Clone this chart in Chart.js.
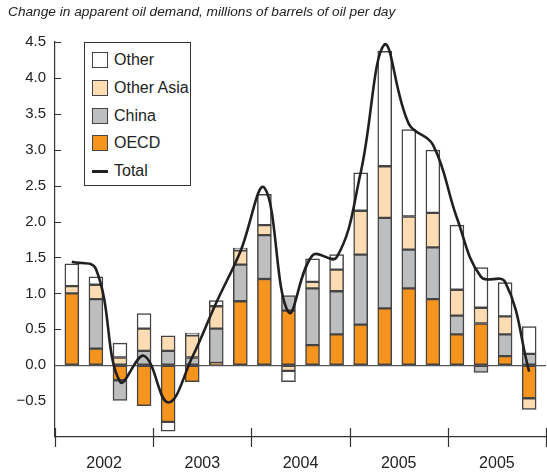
<!DOCTYPE html>
<html>
<head>
<meta charset="utf-8">
<script src="https://cdn.jsdelivr.net/npm/chart.js@4.4.1/dist/chart.umd.min.js"></script>
<style>
  html, body { margin: 0; padding: 0; background: #fff; }
  #wrap { position: relative; width: 547px; height: 475px; font-family: "Liberation Sans", Arial, sans-serif; }
  #title { position: absolute; left: 8px; top: 4px; font-size: 13.7px; font-style: italic; color: #222; white-space: nowrap; }
  #legend { position: absolute; left: 84px; top: 42px; width: 105px; height: 142px; border: 1px solid #333; background: #fff; }
  .lg-row { position: absolute; left: 7px; height: 18px; display: flex; align-items: center; font-size: 16px; color: #222; }
  .lg-box { width: 16px; height: 16px; border: 1.5px solid #444; margin-right: 6px; box-sizing: border-box; }
  .lg-line { width: 16px; height: 3px; background: #231f20; margin-right: 6px; }
</style>
</head>
<body>
<div id="wrap">
  <canvas id="c" width="547" height="475"></canvas>
  <div id="title">Change in apparent oil demand, millions of barrels of oil per day</div>
  <div id="legend"></div>
</div>
<script>
// ===== Data (quarterly, 2002 Q1 .. fifth year Q4) =====
const quarters = ["Q1","Q2","Q3","Q4","Q1","Q2","Q3","Q4","Q1","Q2","Q3","Q4","Q1","Q2","Q3","Q4","Q1","Q2","Q3","Q4"];
const yearLabels = ["2002", "2003", "2004", "2005", "2005"];
const yTicks = [-0.5, 0, 0.5, 1, 1.5, 2, 2.5, 3, 3.5, 4, 4.5];

const oecd = [1.0, 0.23, -0.21, -0.565, -0.79, -0.23, 0.03, 0.89, 1.2, 0.76, 0.28, 0.43, 0.565, 0.79, 1.07, 0.92, 0.43, 0.58, 0.125, -0.46];
const china = [0, 0.69, -0.28, 0.2, 0.2, 0.107, 0.48, 0.51, 0.61, 0.21, 0.79, 0.6, 0.975, 1.26, 0.54, 0.72, 0.26, -0.1, 0.305, 0.157];
const otherAsia = [0.1, 0.2, 0.107, 0.31, 0.21, 0.31, 0.31, 0.2, 0.14, -0.08, 0.09, 0.3, 0.61, 0.72, 0.46, 0.48, 0.36, 0.22, 0.25, -0.155];
const other = [0.31, 0.11, 0.2, 0.21, -0.13, 0.03, 0.08, 0.03, 0.43, -0.15, 0.32, 0.21, 0.53, 1.6, 1.21, 0.875, 0.9, 0.56, 0.47, 0.38];
const total = [1.44, 1.34, -0.23, 0.13, -0.52, 0.11, 0.87, 1.58, 2.47, 0.74, 1.53, 1.5, 2.68, 4.47, 3.36, 3.07, 2.05, 1.23, 1.16, -0.09];

const COL = {
  oecd: "#f7941d",
  china: "#bcbec0",
  otherAsia: "#fedcb3",
  other: "#ffffff",
  edge: "#444444",
  ink: "#231f20",
};

const pts = (arr) => arr.map((v, i) => ({ x: i, y: v }));

function barSet(label, arr, color) {
  return {
    type: "bar",
    label: label,
    data: pts(arr),
    backgroundColor: color,
    borderColor: COL.edge,
    borderWidth: 1.5,
    borderSkipped: false,
    barThickness: 14,
    order: 1,
  };
}

// ===== Legend (html) =====
const legendItems = [
  { name: "Other", color: COL.other },
  { name: "Other Asia", color: COL.otherAsia },
  { name: "China", color: COL.china },
  { name: "OECD", color: COL.oecd },
  { name: "Total", line: true },
];
const legend = document.getElementById("legend");
legendItems.forEach((it, i) => {
  const row = document.createElement("div");
  row.className = "lg-row";
  row.style.top = (8 + i * 27.8) + "px";
  const mark = document.createElement("div");
  if (it.line) {
    mark.className = "lg-line";
  } else {
    mark.className = "lg-box";
    mark.style.background = it.color;
  }
  const txt = document.createElement("span");
  txt.textContent = it.name;
  row.appendChild(mark);
  row.appendChild(txt);
  legend.appendChild(row);
});

// ===== Axis decorations: inner ticks, year separators =====
const axisDeco = {
  id: "axisDeco",
  afterDraw(chart) {
    const { ctx, chartArea } = chart;
    const y = chart.scales.y;
    const x2 = chart.scales.x2;
    ctx.save();
    ctx.strokeStyle = "#333";
    ctx.lineWidth = 1.2;
    ctx.beginPath();
    yTicks.filter((v) => v > 0).forEach((v) => {
      const py = Math.round(y.getPixelForValue(v)) + 0.5;
      ctx.moveTo(chartArea.left, py);
      ctx.lineTo(chartArea.left + 6, py);
    });
    for (let g = 0; g <= yearLabels.length; g++) {
      const px = Math.round(x2.getPixelForValue(g * 4 - 0.5)) + 0.5;
      ctx.moveTo(px, chartArea.bottom - 9);
      ctx.lineTo(px, chartArea.bottom + 10);
    }
    ctx.stroke();
    ctx.restore();
  },
};

new Chart(document.getElementById("c"), {
  data: {
    labels: quarters,
    datasets: [
      barSet("OECD", oecd, COL.oecd),
      barSet("China", china, COL.china),
      barSet("Other Asia", otherAsia, COL.otherAsia),
      barSet("Other", other, COL.other),
      {
        type: "line",
        label: "Total",
        data: pts(total),
        borderColor: COL.ink,
        borderWidth: 2.6,
        pointRadius: 0,
        tension: 0.4,
        fill: false,
        stack: "line",
        order: 0,
      },
    ],
  },
  options: {
    responsive: false,
    animation: false,
    layout: { padding: { top: 42, right: 1, left: 0, bottom: 0 } },
    plugins: { legend: { display: false }, tooltip: { enabled: false } },
    scales: {
      x: {
        type: "linear",
        stacked: true,
        offset: false,
        min: -0.7,
        max: 19.7,
        display: false,
      },
      x2: {
        type: "linear",
        position: "bottom",
        offset: false,
        min: -0.5,
        max: 19.5,
        afterBuildTicks: (s) => {
          s.ticks = yearLabels.map((_, i) => ({ value: i * 4 + 1.5 }));
        },
        afterFit: (s) => { s.height = 38; },
        grid: { display: false, drawTicks: false },
        border: { display: true, color: "#333", width: 1.2 },
        ticks: {
          autoSkip: false,
          maxRotation: 0,
          padding: 17,
          color: "#222",
          font: { family: "Liberation Sans, Arial", size: 16 },
          callback: (v) => yearLabels[Math.round((v - 1.5) / 4)],
        },
      },
      y: {
        stacked: true,
        min: -1,
        max: 4.5,
        afterBuildTicks: (s) => {
          s.ticks = yTicks.map((v) => ({ value: v }));
        },
        afterFit: (s) => { s.width = 55; },
        grid: {
          drawTicks: false,
          color: (c) => (c.tick && c.tick.value === 0 ? "#555" : "rgba(0,0,0,0)"),
          lineWidth: 1.2,
        },
        border: { display: true, color: "#333", width: 1.2 },
        ticks: {
          padding: 9,
          color: "#222",
          font: { family: "Liberation Sans, Arial", size: 15 },
          callback: (v) => (v < 0 ? "\u2212" + Math.abs(v).toFixed(1) : v.toFixed(1)),
        },
      },
    },
  },
  plugins: [axisDeco],
});
</script>
</body>
</html>
